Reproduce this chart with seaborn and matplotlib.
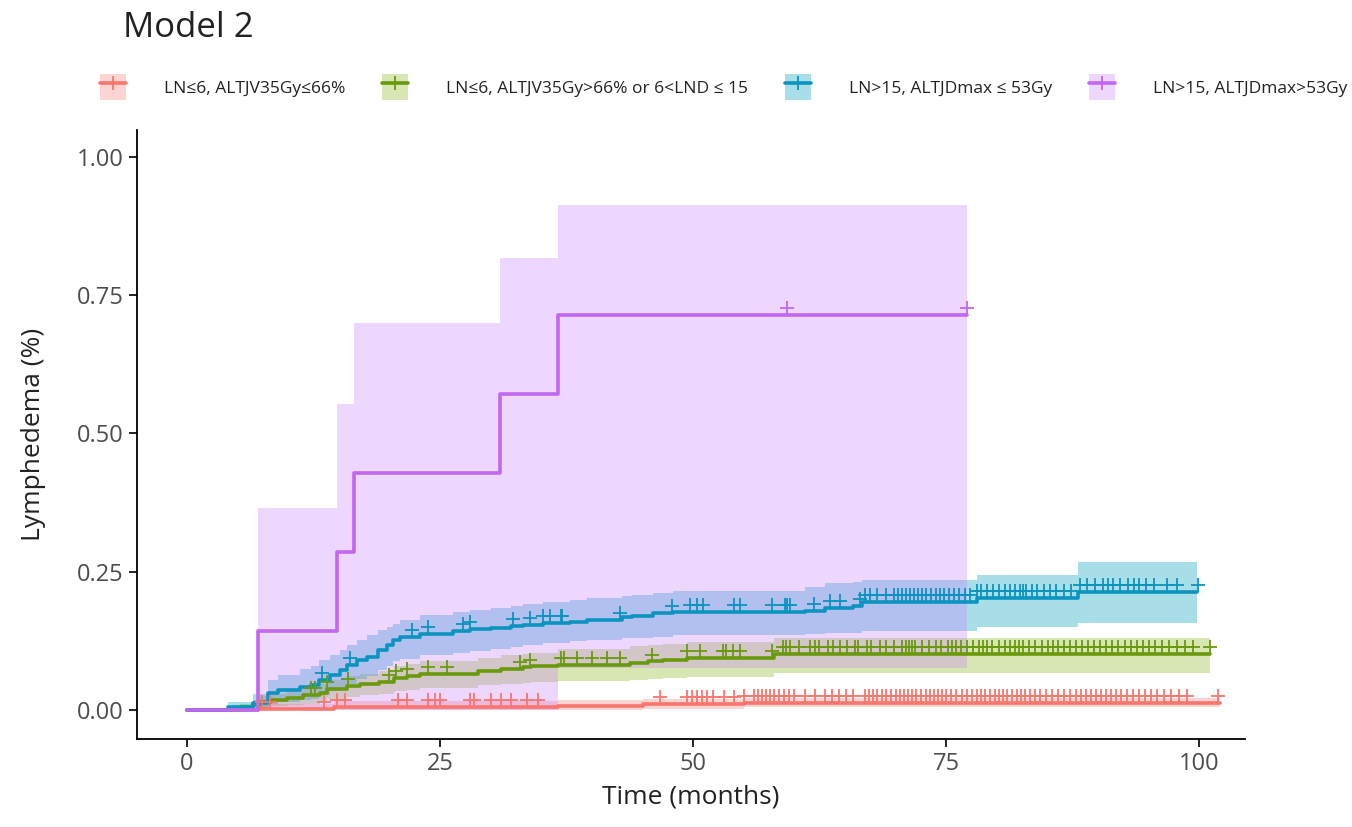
import numpy as np
import matplotlib
matplotlib.use("Agg")
import matplotlib.pyplot as plt
import matplotlib.transforms as mtransforms
import seaborn as sns
from matplotlib.patches import Patch
from matplotlib.lines import Line2D
from matplotlib.legend_handler import HandlerTuple

# ---------------- data ----------------
labels = ["LN≤6, ALTJV35Gy≤66%",
          "LN≤6, ALTJV35Gy>66% or 6<LND ≤ 15",
          "LN>15, ALTJDmax ≤ 53Gy",
          "LN>15, ALTJDmax>53Gy"]

red_t = [0, 7.0, 14.5, 36.6, 45.0, 55.0, 102.0]
red_s = [0, 0.003, 0.006, 0.008, 0.011, 0.013, 0.013]
red_lo = [0, 0.0, 0.0, 0.001, 0.003, 0.005, 0.005]
red_hi = [0, 0.012, 0.016, 0.018, 0.020, 0.022, 0.022]
red_cens = [7.4, 8.2, 13.5, 14.8, 15.6, 20.8, 21.7, 23.8, 24.5, 25.0, 28.0, 28.3,
            30.0, 31.0, 32.0, 33.6, 34.7, 46.7, 49.4, 49.9, 50.4, 50.9, 51.4, 52.0,
            53.0, 54.0, 55.0, 56.0, 56.4, 56.8, 57.2, 57.6, 58.0, 58.5, 59.0, 59.5,
            60.0, 61.0, 62.0, 63.0, 63.7, 64.4, 65.1, 65.8, 67.0, 67.4, 67.8, 68.2,
            68.6, 69.0, 69.5, 70.0, 70.4, 70.8, 71.2, 71.6, 72.0, 72.5, 73.0, 73.4,
            73.8, 74.2, 74.6, 75.0, 75.5, 76.0, 76.5, 77.0, 77.5, 78.0, 78.4, 78.8,
            79.3, 79.8, 80.2, 80.6, 81.0, 81.5, 82.0, 82.4, 82.8, 83.3, 83.8, 84.3,
            84.8, 85.4, 86.0, 86.6, 87.2, 87.8, 88.3, 88.8, 89.3, 89.8, 90.3, 90.8,
            91.3, 91.8, 92.3, 92.8, 93.4, 94.0, 94.6, 95.2, 95.8, 96.5, 97.2, 98.0,
            98.8, 101.8]

green_t = [0, 5.2, 6.5, 7.2, 8.3, 9.9, 11.5, 13.1, 13.8, 15.8, 17.1, 19.0, 20.4,
           21.7, 23.0, 28.7, 31.0, 33.2, 34.0, 36.6, 43.8, 45.5, 47.0, 49.4, 58.0, 101.0]
green_s = [0, 0.005, 0.009, 0.014, 0.018, 0.022, 0.027, 0.031, 0.038, 0.043, 0.047,
           0.051, 0.058, 0.061, 0.066, 0.071, 0.075, 0.078, 0.079, 0.081, 0.086,
           0.088, 0.090, 0.094, 0.101, 0.101]
green_lo = [0, 0.0, 0.001, 0.004, 0.007, 0.009, 0.012, 0.015, 0.020, 0.024, 0.027,
            0.030, 0.035, 0.037, 0.041, 0.045, 0.048, 0.050, 0.051, 0.052, 0.055,
            0.057, 0.058, 0.060, 0.067, 0.067]
green_hi = [0, 0.012, 0.018, 0.025, 0.030, 0.036, 0.042, 0.047, 0.055, 0.061, 0.066,
            0.071, 0.079, 0.083, 0.088, 0.094, 0.099, 0.102, 0.104, 0.111, 0.116,
            0.118, 0.120, 0.123, 0.130, 0.130]
green_cens = [12.2, 12.6, 13.8, 15.9, 20.0, 20.6, 21.7, 23.8, 25.7, 32.9, 33.9, 36.9,
              37.2, 38.5, 40.0, 41.5, 42.8, 45.9, 49.4, 50.7, 52.9, 53.2, 53.9, 54.6,
              57.8, 58.9, 59.2, 59.6, 60.4, 61.5, 62.0, 62.4, 63.3, 63.8, 64.5, 65.2,
              66.0, 66.3, 67.2, 67.6, 68.4, 69.0, 69.8, 70.6, 71.0, 71.3, 71.6, 71.9,
              72.6, 73.3, 74.0, 74.5, 75.2, 75.6, 76.0, 76.4, 77.0, 77.6, 78.2, 78.6,
              79.0, 79.5, 80.2, 80.8, 81.3, 81.8, 82.2, 82.6, 83.2, 83.8, 84.4, 85.0,
              85.5, 86.0, 86.6, 87.2, 87.8, 88.4, 89.0, 89.6, 90.2, 90.8, 91.4, 92.0,
              92.6, 93.2, 93.8, 94.4, 95.0, 95.6, 96.3, 97.0, 97.8, 98.6, 99.4, 101.0]

teal_t = [0, 4.0, 6.5, 8.0, 9.0, 11.2, 12.2, 13.0, 14.1, 15.1, 15.8, 16.8, 17.8, 18.9,
          19.8, 20.3, 21.0, 23.0, 26.3, 28.0, 30.0, 32.0, 33.2, 35.2, 37.8, 39.5, 43.0,
          44.0, 46.0, 48.0, 61.0, 63.0, 65.8, 66.7, 78.0, 88.0, 99.8]
teal_s = [0, 0.005, 0.013, 0.031, 0.036, 0.042, 0.045, 0.054, 0.063, 0.072, 0.081,
          0.090, 0.096, 0.108, 0.117, 0.126, 0.132, 0.138, 0.143, 0.146, 0.148, 0.152,
          0.154, 0.157, 0.160, 0.163, 0.168, 0.171, 0.175, 0.177, 0.180, 0.184, 0.188,
          0.195, 0.202, 0.213, 0.213]
teal_lo = [0, 0.0, 0.0, 0.011, 0.014, 0.018, 0.020, 0.027, 0.034, 0.041, 0.048, 0.056,
           0.062, 0.072, 0.080, 0.088, 0.092, 0.100, 0.104, 0.107, 0.110, 0.114, 0.117,
           0.121, 0.125, 0.127, 0.130, 0.131, 0.133, 0.135, 0.137, 0.139, 0.140, 0.143,
           0.150, 0.157, 0.157]
teal_hi = [0, 0.015, 0.030, 0.054, 0.063, 0.075, 0.080, 0.090, 0.099, 0.108, 0.117,
           0.126, 0.135, 0.144, 0.150, 0.156, 0.163, 0.172, 0.178, 0.181, 0.184, 0.188,
           0.191, 0.195, 0.199, 0.202, 0.206, 0.208, 0.212, 0.215, 0.222, 0.229, 0.232,
           0.235, 0.244, 0.267, 0.267]
teal_cens = [13.3, 16.1, 22.2, 23.8, 27.3, 28.0, 32.2, 33.9, 35.2, 35.9, 36.9, 37.0,
             42.8, 47.9, 49.7, 50.4, 51.0, 54.0, 54.6, 57.8, 59.1, 59.3, 59.6, 61.9,
             63.5, 64.5, 66.5, 67.0, 67.5, 68.2, 69.0, 69.8, 70.2, 70.6, 71.0, 71.4,
             71.8, 72.2, 72.6, 73.0, 73.5, 74.0, 74.4, 74.8, 75.3, 75.8, 76.3, 76.8,
             77.3, 78.0, 78.4, 79.0, 79.6, 80.2, 80.8, 81.3, 81.8, 82.3, 82.6, 82.9,
             83.5, 84.0, 84.6, 85.2, 85.8, 86.6, 87.3, 88.2, 88.9, 89.7, 90.5, 91.0,
             91.5, 92.2, 92.9, 93.5, 94.0, 94.7, 95.5, 96.8, 97.8, 99.9]

purple_t = [0, 7.0, 14.8, 16.5, 30.9, 36.6, 77.0]
purple_s = [0, 0.143, 0.286, 0.429, 0.571, 0.714, 0.714]
purple_lo = [0, 0.0, 0.0, 0.0, 0.0, 0.077, 0.077]
purple_hi = [0, 0.366, 0.553, 0.700, 0.817, 0.912, 0.912]
purple_cens = [59.3, 77.0]

x_ticks = [0, 25, 50, 75, 100]
y_ticks = [0.0, 0.25, 0.50, 0.75, 1.00]

# ---------------- style ----------------
line_cols = ["#F8766D", "#6A9A0B", "#0A94BF", "#C167F0"]
fill_cols = ["#F8766D", "#7CAE00", "#06A3BD", "#C77CFF"]
fill_alpha = [0.3, 0.3, 0.35, 0.3]

sns.set_theme(style="ticks")
plt.rcParams['font.family'] = ['Open Sans', 'DejaVu Sans']

fig = plt.figure(figsize=(13.52, 8.27), dpi=100)
ax = fig.add_axes([137 / 1352, 1 - 739 / 827, (1245 - 137) / 1352, (739 - 130) / 827])

series = [
    (red_t, red_s, red_lo, red_hi, red_cens),
    (green_t, green_s, green_lo, green_hi, green_cens),
    (teal_t, teal_s, teal_lo, teal_hi, teal_cens),
    (purple_t, purple_s, purple_lo, purple_hi, purple_cens),
]

for i, (t, s, lo, hi, c) in enumerate(series):
    ax.fill_between(t, lo, hi, step='post', color=fill_cols[i], alpha=fill_alpha[i],
                    linewidth=0, zorder=1)

offset = mtransforms.ScaledTranslation(0, 5 / 72, fig.dpi_scale_trans)
for i, (t, s, lo, hi, c) in enumerate(series):
    sns.lineplot(x=t, y=s, drawstyle='steps-post', color=line_cols[i], linewidth=2.6,
                 estimator=None, sort=False, ax=ax, zorder=3)
    idx = np.searchsorted(t, c, side='right') - 1
    cy = np.asarray(s)[idx]
    before = len(ax.collections)
    sns.scatterplot(x=c, y=cy, marker='+', s=110, color=line_cols[i], linewidth=1.3,
                    ax=ax, zorder=4)
    for coll in ax.collections[before:]:
        coll.set_offset_transform(ax.transData + offset)

ax.set_xlim(-4.94, 104.5)
ax.set_ylim(-0.052, 1.048)
ax.set_xticks(x_ticks)
ax.set_xticklabels([str(v) for v in x_ticks])
ax.set_yticks(y_ticks)
ax.set_yticklabels([f"{v:.2f}" for v in y_ticks])
ax.tick_params(axis='both', labelsize=17, colors='black', labelcolor='#4D4D4D',
               length=6, width=1.2, direction='out')
for sp in ['top', 'right']:
    ax.spines[sp].set_visible(False)
for sp in ['left', 'bottom']:
    ax.spines[sp].set_color('black')
    ax.spines[sp].set_linewidth(1.3)
ax.set_xlabel("Time (months)", fontsize=19, color='#222222', labelpad=6)
ax.set_ylabel("Lymphedema (%)", fontsize=19, color='#222222', labelpad=22)

fig.text(123 / 1352, 1 - 28 / 827, "Model 2", fontsize=25, ha='left', va='center',
         color='#222222')

handles = []
for i in range(4):
    p = Patch(facecolor=fill_cols[i], alpha=fill_alpha[i], edgecolor='none')
    ln = Line2D([], [], color=line_cols[i], lw=2.6, marker='+', markersize=10,
                markeredgewidth=1.3)
    handles.append((p, ln))
leg = fig.legend(handles, labels, handler_map={tuple: HandlerTuple(ndivide=1, pad=0)},
                 loc='center left', bbox_to_anchor=(100 / 1352, 1 - 87 / 827),
                 ncol=4, frameon=False, fontsize=12.5, handlelength=1.5,
                 handleheight=1.9, handletextpad=2.2, columnspacing=2.1,
                 borderpad=0, borderaxespad=0)
for txt in leg.get_texts():
    txt.set_color('#222222')

fig.savefig("out.png", dpi=100)
